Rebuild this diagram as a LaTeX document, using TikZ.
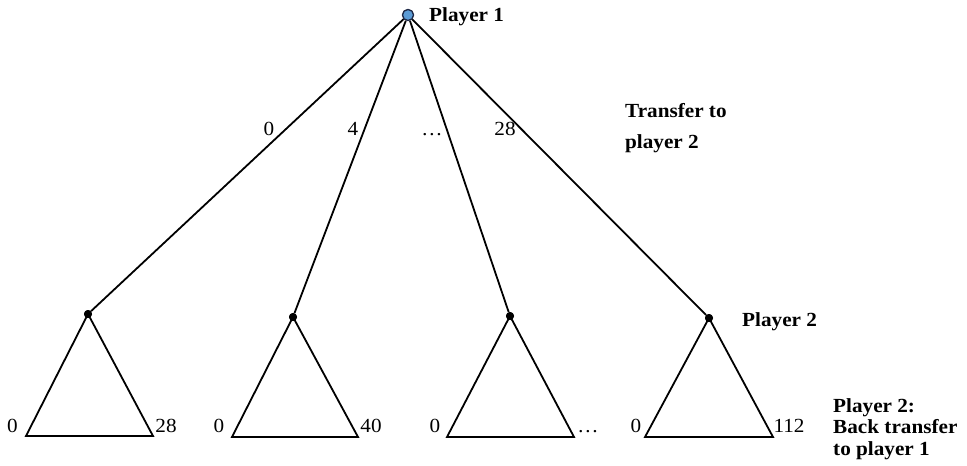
\documentclass[tikz,border=0pt]{standalone}
\usepackage{fontspec}
\setmainfont{Liberation Serif}
\usepackage{graphicx}
\definecolor{rootblue}{RGB}{91,155,213}
\definecolor{rootedge}{RGB}{30,40,70}
\newcommand{\wtxt}[1]{\scalebox{1.06}[1]{#1}}
\tikzset{
  edge/.style={line width=1.8pt, line join=miter},
  dot/.style={circle, fill=black, inner sep=0pt, minimum size=8pt},
  rootdot/.style={circle, fill=rootblue, draw=rootedge, line width=1.2pt, inner sep=0pt, minimum size=11pt},
  lbl/.style={inner sep=0pt, anchor=base, font=\fontsize{20}{22}\selectfont},
  bl/.style={inner sep=0pt, anchor=base west, font=\fontsize{20}{22}\selectfont\bfseries}
}
\begin{document}
\begin{tikzpicture}[x=1pt, y=-1pt]
\useasboundingbox (0,0) rectangle (967,466);
% nodes
\node[rootdot] (r) at (408,15) {};
\node[dot] (c1) at (88,314) {};
\node[dot] (c2) at (293,317) {};
\node[dot] (c3) at (510,316) {};
\node[dot] (c4) at (709,318) {};
\coordinate (l1) at (26,436);  \coordinate (r1) at (153,436);
\coordinate (l2) at (232,437); \coordinate (r2) at (358,437);
\coordinate (l3) at (447,437); \coordinate (r3) at (574,437);
\coordinate (l4) at (645,437); \coordinate (r4) at (773,437);
% transfer edges
\draw[edge] (r) -- (c1);
\draw[edge] (r) -- (c2);
\draw[edge] (r) -- (c3);
\draw[edge] (r) -- (c4);
% triangles
\draw[edge] (c1.center) -- (l1) -- (r1) -- cycle;
\draw[edge] (c2.center) -- (l2) -- (r2) -- cycle;
\draw[edge] (c3.center) -- (l3) -- (r3) -- cycle;
\draw[edge] (c4.center) -- (l4) -- (r4) -- cycle;
% redraw dots on top
\node[rootdot] at (r) {};
\node[dot] at (c1) {};
\node[dot] at (c2) {};
\node[dot] at (c3) {};
\node[dot] at (c4) {};
% edge labels
\node[lbl] (e1) at (269,135) {\wtxt{0}};
\node[lbl] (e2) at (353,135) {\wtxt{4}};
\node[lbl] (e3) at (432,135) {\wtxt{\dots}};
\node[lbl] (e4) at (505,135) {\wtxt{28}};
% leaf labels
\node[lbl] (a1) at (12.5,432) {\wtxt{0}};
\node[lbl] (b1) at (166,432) {\wtxt{28}};
\node[lbl] (a2) at (219,432) {\wtxt{0}};
\node[lbl] (b2) at (371,432) {\wtxt{40}};
\node[lbl] (a3) at (435,432) {\wtxt{0}};
\node[lbl] (b3) at (588,432) {\wtxt{\dots}};
\node[lbl] (a4) at (636,432) {\wtxt{0}};
\node[lbl] (b4) at (789,432) {\wtxt{112}};
% bold annotations
\node[bl] (p1) at (429,21) {\wtxt{Player 1}};
\node[bl] (t1) at (625,117) {\wtxt{Transfer to}};
\node[bl] (t2) at (625,148) {\wtxt{player 2}};
\node[bl] (p2) at (742,326) {\wtxt{Player 2}};
\node[bl] (q1) at (833,412) {\wtxt{Player 2:}};
\node[bl] (q2) at (833,433) {\wtxt{Back transfer}};
\node[bl] (q3) at (833,455) {\wtxt{to player 1}};
\end{tikzpicture}
\end{document}
